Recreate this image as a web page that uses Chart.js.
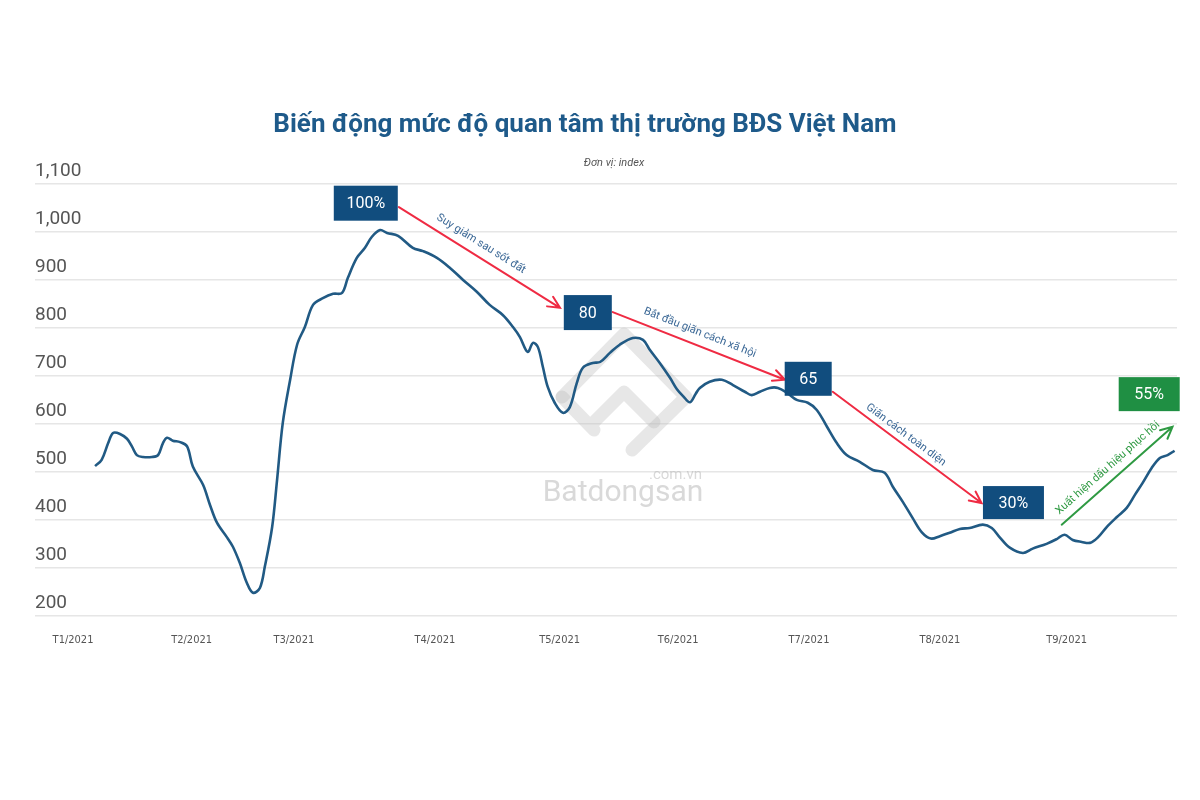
<!DOCTYPE html>
<html>
<head>
<meta charset="utf-8">
<script src="https://cdn.jsdelivr.net/npm/chart.js@4"></script>
<style>
  html, body { margin: 0; padding: 0; background: #fff; }
  #wrap { width: 1200px; height: 800px; }
</style>
</head>
<body>
<div id="wrap"><canvas id="chart" width="1200" height="800"></canvas></div>
<script>
// Dữ liệu: ngày tính từ 1/1/2021 và chỉ số quan tâm
const days = [5.4, 7.0, 8.6, 9.8, 11.5, 13.2, 14.4, 15.6, 17.1, 19.3, 20.8, 22.0, 23.0, 24.4, 26.2, 27.9,
  29.3, 31.8, 33.5, 35.2, 37.7, 39.1, 40.8, 42.5, 44.0, 45.7, 46.9, 48.7, 49.9, 51.3, 53.1, 54.8,
  56.7, 58.7, 61.1, 63.6, 65.8, 67.2, 69.4, 71.4, 73.1, 75.1, 76.8, 79.5, 83.1, 85.6, 89.0, 92.2,
  95.4, 98.8, 101.9, 105.1, 107.6, 109.3, 111.2, 112.5, 113.7, 114.9, 116.1, 117.8, 119.8, 121.5,
  123.2, 124.7, 127.1, 128.9, 131.3, 133.7, 136.9, 139.4, 141.1, 143.5, 146.0, 147.7, 149.2, 150.9,
  152.3, 153.3, 155.7, 158.7, 161.4, 164.3, 166.0, 168.0, 170.4, 172.4, 174.6, 177.0, 179.7, 181.9,
  184.4, 186.8, 189.2, 192.4, 195.6, 198.5, 200.5, 202.9, 205.4, 207.6, 209.8, 212.0, 214.4, 216.9,
  219.3, 222.5, 224.7, 226.7, 229.1, 232.3, 234.7, 238.1, 240.6, 242.5, 244.5, 246.7, 248.7, 250.6,
  252.8, 255.3, 257.7, 259.7, 261.6, 263.8, 265.8, 267.7, 269.4];
const interest = [512, 525, 560, 581, 579, 569, 553, 535, 531, 531, 535, 560, 571, 565, 562, 553,
  511, 473, 431, 394, 363, 344, 310, 269, 248, 258, 302, 385, 483, 602, 692, 765,
  802, 848, 862, 871, 873, 904, 946, 967, 990, 1004, 998, 992, 967, 960, 946, 925,
  900, 875, 848, 827, 802, 781, 750, 769, 760, 719, 677, 644, 623, 635,
  685, 717, 727, 729, 748, 765, 779, 775, 754, 727, 696, 672, 658, 645,
  663, 675, 688, 692, 681, 667, 660, 667, 675, 675, 665, 650, 644, 629,
  594, 560, 535, 521, 504, 498, 469, 438, 403, 374, 361, 366, 373, 381,
  383, 390, 383, 363, 342, 331, 340, 350, 360, 369, 358, 354, 352, 363,
  385, 406, 425, 452, 477, 508, 529, 535, 544];

const monthLabels = ["T1/2021", "T2/2021", "T3/2021", "T4/2021", "T5/2021", "T6/2021", "T7/2021", "T8/2021", "T9/2021"];
const monthPos = [0, 29, 54, 88.5, 119, 148, 180, 212, 243];

// Chú thích: hộp số liệu và mũi tên (toạ độ theo ngày / chỉ số)
const boxLabels = ["100%", "80", "65", "30%", "55%"];
const boxDays = [71.6, 125.9, 179.8, 230, 263.2];
const boxValues = [1060, 832, 694, 436, 662];

const arrowTexts = ["Suy giảm sau sốt đất", "Bắt đầu giãn cách xã hội", "Giãn cách toàn diện", "Xuất hiện dấu hiệu phục hồi"];
const arrowFrom = [[79.7, 1052], [132.0, 833], [185.8, 667], [241.8, 390]];
const arrowTo = [[119.1, 842], [174.1, 692], [222.2, 435], [268.9, 594]];
const textAt = [[99.8, 975], [153.3, 790], [203.7, 577], [253.1, 508]];

const BLUE_BOX = "#114d7e";
const GREEN_BOX = "#1f8f43";
const RED = "#ef2b43";
const GREEN = "#2f9a43";

const boxSizes = [[64, 35], [48, 35], [47, 34], [61, 33], [61, 34]];

const overlay = {
  id: "overlay",
  beforeDatasetsDraw(chart) {
    const ctx = chart.ctx;
    // Logo chìm Batdongsan
    ctx.save();
    ctx.strokeStyle = "rgba(185,185,185,0.35)";
    ctx.lineWidth = 13;
    ctx.lineJoin = "round";
    ctx.lineCap = "round";
    const cx = 624, cy = 392;
    ctx.beginPath();
    ctx.moveTo(cx - 62, cy + 5);
    ctx.lineTo(cx, cy - 58);
    ctx.lineTo(cx + 62, cy + 5);
    ctx.lineTo(cx + 8, cy + 58);
    ctx.stroke();
    ctx.beginPath();
    ctx.moveTo(cx - 30, cy + 30);
    ctx.lineTo(cx, cy);
    ctx.lineTo(cx + 30, cy + 30);
    ctx.moveTo(cx - 62, cy + 5);
    ctx.lineTo(cx - 30, cy + 38);
    ctx.stroke();
    ctx.fillStyle = "rgba(170,170,170,0.45)";
    ctx.font = "30px Roboto";
    ctx.textAlign = "center";
    ctx.textBaseline = "middle";
    ctx.fillText("Batdongsan", 623, 493);
    ctx.font = "15px Roboto";
    ctx.textAlign = "right";
    ctx.fillText(".com.vn", 702, 475);
    ctx.restore();
  },
  afterDatasetsDraw(chart) {
    const ctx = chart.ctx;
    const x = chart.scales.x, y = chart.scales.y;
    const px = d => x.getPixelForValue(d);
    const py = v => y.getPixelForValue(v);

    ctx.save();
    // Mũi tên
    arrowFrom.forEach((f, i) => {
      const x1 = px(f[0]), y1 = py(f[1]);
      const x2 = px(arrowTo[i][0]), y2 = py(arrowTo[i][1]);
      const col = i === 3 ? GREEN : RED;
      ctx.strokeStyle = col;
      ctx.lineWidth = 2;
      ctx.lineCap = "round";
      ctx.beginPath();
      ctx.moveTo(x1, y1);
      ctx.lineTo(x2, y2);
      const a = Math.atan2(y2 - y1, x2 - x1);
      const h = 13;
      ctx.moveTo(x2 - h * Math.cos(a - 0.45), y2 - h * Math.sin(a - 0.45));
      ctx.lineTo(x2, y2);
      ctx.lineTo(x2 - h * Math.cos(a + 0.45), y2 - h * Math.sin(a + 0.45));
      ctx.stroke();

      // Chữ dọc theo mũi tên
      ctx.save();
      ctx.translate(px(textAt[i][0]), py(textAt[i][1]));
      ctx.rotate(a);
      ctx.fillStyle = i === 3 ? GREEN : "#3b6896";
      ctx.font = "11px Roboto";
      ctx.textAlign = "center";
      ctx.textBaseline = "middle";
      ctx.fillText(arrowTexts[i], 0, 0);
      ctx.restore();
    });

    // Hộp số liệu
    boxLabels.forEach((t, i) => {
      const bx = px(boxDays[i]), by = py(boxValues[i]);
      const [w, h] = boxSizes[i];
      ctx.fillStyle = i === 4 ? GREEN_BOX : BLUE_BOX;
      ctx.fillRect(bx - w / 2, by - h / 2, w, h);
      ctx.fillStyle = "#fff";
      ctx.font = "16px Roboto";
      ctx.textAlign = "center";
      ctx.textBaseline = "middle";
      ctx.fillText(t, bx, by + 1);
    });
    ctx.restore();
  },
  afterDraw(chart) {
    const ctx = chart.ctx;
    ctx.save();
    ctx.textAlign = "center";
    ctx.textBaseline = "middle";
    ctx.fillStyle = "#1e5a8a";
    ctx.font = "bold 26px Roboto";
    ctx.fillText("Biến động mức độ quan tâm thị trường BĐS Việt Nam", 585, 125);
    ctx.fillStyle = "#555";
    ctx.font = "italic 11px Roboto";
    ctx.fillText("Đơn vị: index", 614, 163);
    ctx.restore();
  }
};

new Chart(document.getElementById("chart"), {
  type: "line",
  data: {
    datasets: [{
      data: days.map((d, i) => ({ x: d, y: interest[i] })),
      borderColor: "#215a84",
      borderWidth: 2.6,
      pointRadius: 0,
      tension: 0.35,
      fill: false
    }]
  },
  options: {
    responsive: false,
    animation: false,
    layout: { padding: { left: 35, right: 23, top: 184, bottom: 135 } },
    plugins: { legend: { display: false }, tooltip: { enabled: false } },
    scales: {
      x: {
        type: "linear",
        min: -9.3,
        max: 270,
        grid: { display: false, drawTicks: false },
        border: { display: false },
        afterBuildTicks: axis => { axis.ticks = monthPos.map(v => ({ value: v })); },
        ticks: {
          autoSkip: false,
          maxRotation: 0,
          padding: 18,
          color: "#555",
          font: { family: "'Liberation Sans Narrow', 'DejaVu Sans Condensed', Roboto", size: 11 },
          callback: (v, i) => monthLabels[i]
        }
      },
      y: {
        min: 200,
        max: 1100,
        grid: { color: "#e6e6e6", lineWidth: 1.5, drawTicks: false },
        border: { display: false },
        ticks: {
          stepSize: 100,
          mirror: true,
          padding: 0,
          labelOffset: -13,
          color: "#555",
          font: { family: "Roboto", size: 19 },
          callback: v => v.toLocaleString("en-US")
        }
      }
    }
  },
  plugins: [overlay]
});
</script>
</body>
</html>
